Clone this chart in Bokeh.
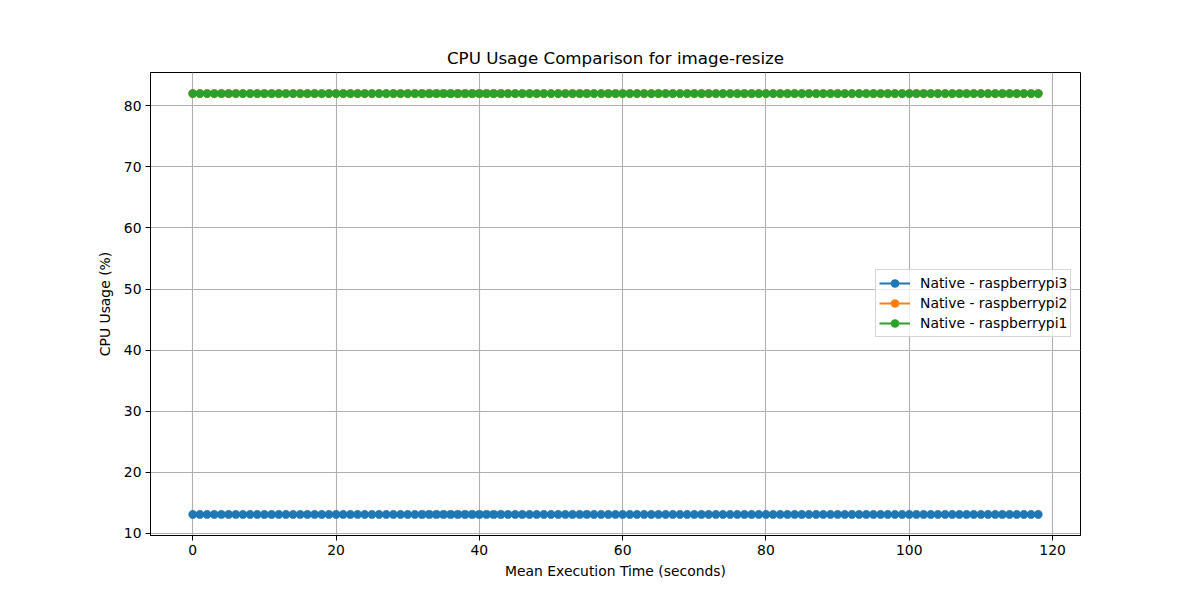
from bokeh.plotting import figure
from bokeh.models import Range1d, FixedTicker, Legend, LegendItem
from bokeh.embed import file_html
from bokeh.resources import INLINE

# Data
x_vals = list(range(0, 119))
pi3_cpu = [13.1] * len(x_vals)
pi2_cpu = [82.0] * len(x_vals)
pi1_cpu = [82.0] * len(x_vals)
series_names = ["Native - raspberrypi3", "Native - raspberrypi2", "Native - raspberrypi1"]
series_values = [pi3_cpu, pi2_cpu, pi1_cpu]
series_colors = ["#1f77b4", "#ff7f0e", "#2ca02c"]
x_ticks = [0, 20, 40, 60, 80, 100, 120]
y_ticks = [10, 20, 30, 40, 50, 60, 70, 80]

FONT = "DejaVu Sans"
FS = "13.9px"

p = figure(width=1200, height=600, output_backend="svg", toolbar_location=None,
           x_range=Range1d(-5.9, 123.9), y_range=Range1d(9.655, 85.445),
           min_border_left=150, min_border_right=120, min_border_top=72,
           min_border_bottom=65, title="CPU Usage Comparison for image-resize")

p.title.align = "center"
p.title.text_font = FONT
p.title.text_font_size = "16.7px"
p.title.text_font_style = "normal"
p.title.text_color = "black"
p.title.standoff = 9

p.outline_line_color = "black"
p.outline_line_width = 1
p.background_fill_color = "white"
p.border_fill_color = "white"

for ax in (p.xaxis[0], p.yaxis[0]):
    ax.axis_line_color = "black"
    ax.major_tick_line_color = "black"
    ax.major_tick_out = 5
    ax.major_tick_in = 0
    ax.minor_tick_line_color = None
    ax.major_label_text_font = FONT
    ax.major_label_text_font_size = FS
    ax.major_label_text_color = "black"
    ax.axis_label_text_font = FONT
    ax.axis_label_text_font_size = FS
    ax.axis_label_text_font_style = "normal"
    ax.axis_label_text_color = "black"

p.xaxis.ticker = FixedTicker(ticks=x_ticks)
p.yaxis.ticker = FixedTicker(ticks=y_ticks)
p.xaxis.axis_label = "Mean Execution Time (seconds)"
p.yaxis.axis_label = "CPU Usage (%)"
p.xaxis.axis_label_standoff = 5
p.yaxis.axis_label_standoff = 8
p.xaxis.major_label_standoff = 4
p.yaxis.major_label_standoff = 4

p.grid.grid_line_color = "#b0b0b0"
p.grid.grid_line_width = 1.1

items = []
for name, vals, col in zip(series_names, series_values, series_colors):
    l = p.line(x_vals, vals, line_color=col, line_width=2)
    s = p.scatter(x_vals, vals, size=8.3, fill_color=col, line_color=col, line_width=0.5)
    items.append(LegendItem(label=name, renderers=[l, s]))

legend = Legend(items=items, location=(725, 198))
legend.label_text_font = FONT
legend.label_text_font_size = FS
legend.label_text_color = "black"
legend.glyph_width = 31
legend.glyph_height = 20
legend.label_standoff = 10
legend.spacing = 0
legend.padding = 3
legend.margin = 0
legend.border_line_color = "#cccccc"
legend.border_line_width = 1
legend.border_line_alpha = 0.8
legend.background_fill_alpha = 0.8
p.add_layout(legend, "center")

open("out.html", "w").write(file_html(p, INLINE))
